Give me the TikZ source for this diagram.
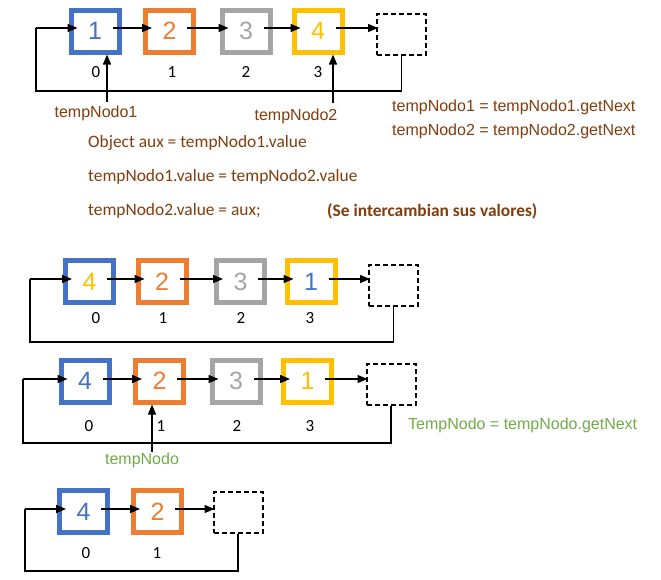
\documentclass[tikz,border=0pt]{standalone}
\usepackage{fontspec}
\setmainfont{Liberation Sans}
\newfontfamily\calfont{Carlito}
\usetikzlibrary{arrows.meta}
\definecolor{cblue}{HTML}{4472C4}
\definecolor{corange}{HTML}{ED7D31}
\definecolor{cgray}{HTML}{A5A5A5}
\definecolor{cyellow}{HTML}{FFC000}
\definecolor{cbrown}{HTML}{843C0C}
\definecolor{cgreen}{HTML}{70AD47}
\begin{document}
\begin{tikzpicture}[x=1pt,y=-1pt,
  box/.style={draw, line width=5pt, minimum width=48pt, minimum height=42pt, inner sep=0pt, font=\fontsize{25}{25}\selectfont},
  nullbox/.style={draw, line width=2pt, dash pattern=on 5pt off 3pt, minimum width=49pt, minimum height=41pt, inner sep=0pt},
  arr/.style={-{Triangle[length=10pt,width=8pt]}, line width=1.3pt},
  ln/.style={line width=1.3pt},
  idx/.style={inner sep=0pt, font=\calfont\fontsize{17}{17}\selectfont},
  lbl/.style={inner sep=0pt, font=\fontsize{16}{16}\selectfont},
  code/.style={inner sep=0pt, anchor=west, text=cbrown, font=\calfont\fontsize{17.4}{17.4}\selectfont},
  codea/.style={inner sep=0pt, anchor=west, text=cbrown, font=\fontsize{16}{16}\selectfont}
]
\useasboundingbox[fill=white] (0,0) rectangle (661,579);

% ---------- Row 1 ----------
\node[box, draw=cblue, text=cblue] (a1) at (95,31) {1};
\node[box, draw=corange, text=corange] (a2) at (169.5,31) {2};
\node[box, draw=cgray, text=cgray] (a3) at (246,31) {3};
\node[box, draw=cyellow, text=cyellow] (a4) at (318,31) {4};
\node[nullbox] (ad) at (401.5,34.5) {};
\coordinate (ae) at (36,28);
\coordinate (al) at (36,91);
\draw[ln] (ad.south) |- (al) -- (ae);
\draw[arr] (ae) -- ([xshift=9pt]ae -| a1.west);
\draw[arr] ([xshift=-9pt]ae -| a1.east) -- ([xshift=9pt]ae -| a2.west);
\draw[arr] ([xshift=-9pt]ae -| a2.east) -- ([xshift=9pt]ae -| a3.west);
\draw[arr] ([xshift=-9pt]ae -| a3.east) -- ([xshift=9pt]ae -| a4.west);
\draw[arr] ([xshift=-9pt]ae -| a4.east) -- ([xshift=2pt]ae -| ad.west);
\node[idx] (ai0) at (96,72) {0};
\node[idx] (ai1) at (172,72) {1};
\node[idx] (ai2) at (246,72) {2};
\node[idx] (ai3) at (318,72) {3};
\node[lbl, text=cbrown] (t1) at (96,113) {tempNodo1};
\node[lbl, text=cbrown] (t2) at (296,116) {tempNodo2};
\coordinate (p1) at (107,102);
\coordinate (p2) at (333,103);
\draw[arr] (p1) -- (p1 |- a1.south);
\draw[arr] (p2) -- (p2 |- a4.south);

% ---------- Code text ----------
\node[codea] (c1) at (392,107) {tempNodo1 = tempNodo1.getNext};
\node[codea] (c2) at (392,131) {tempNodo2 = tempNodo2.getNext};
\node[code] (c3) at (88,143) {Object aux = tempNodo1.value};
\node[code] (c4) at (88,177) {tempNodo1.value = tempNodo2.value};
\node[code] (c5) at (88,211) {tempNodo2.value = aux;};
\node[code, font=\calfont\bfseries\fontsize{17.4}{17.4}\selectfont] (c6) at (327,211) {(Se intercambian sus valores)};

% ---------- Row 2 ----------
\node[box, draw=cblue, text=cyellow] (b1) at (89.5,281.5) {4};
\node[box, draw=corange, text=corange] (b2) at (162,281.5) {2};
\node[box, draw=cgray, text=cgray] (b3) at (240.5,281.5) {3};
\node[box, draw=cyellow, text=cblue] (b4) at (311,281.5) {1};
\node[nullbox] (bd) at (393.5,285.5) {};
\coordinate (be) at (30,279);
\coordinate (bl) at (30,342);
\draw[ln] (bd.south) |- (bl) -- (be);
\draw[arr] (be) -- ([xshift=9pt]be -| b1.west);
\draw[arr] ([xshift=-9pt]be -| b1.east) -- ([xshift=9pt]be -| b2.west);
\draw[arr] ([xshift=-9pt]be -| b2.east) -- ([xshift=9pt]be -| b3.west);
\draw[arr] ([xshift=-9pt]be -| b3.east) -- ([xshift=9pt]be -| b4.west);
\draw[arr] ([xshift=-9pt]be -| b4.east) -- ([xshift=2pt]be -| bd.west);
\node[idx] (bi0) at (96,318) {0};
\node[idx] (bi1) at (163,318) {1};
\node[idx] (bi2) at (241,318) {2};
\node[idx] (bi3) at (310,318) {3};

% ---------- Row 3 ----------
\node[box, draw=cblue, text=cblue] (r1) at (85,381) {4};
\node[box, draw=corange, text=corange] (r2) at (159.5,381) {2};
\node[box, draw=cgray, text=cgray] (r3) at (236,381) {3};
\node[box, draw=cyellow, text=cyellow] (r4) at (307.5,381) {1};
\node[nullbox] (rd) at (391,384) {};
\coordinate (re) at (23,379);
\coordinate (rl) at (23,443);
\draw[ln] (rd.south) |- (rl) -- (re);
\draw[arr] (re) -- ([xshift=9pt]re -| r1.west);
\draw[arr] ([xshift=-9pt]re -| r1.east) -- ([xshift=9pt]re -| r2.west);
\draw[arr] ([xshift=-9pt]re -| r2.east) -- ([xshift=9pt]re -| r3.west);
\draw[arr] ([xshift=-9pt]re -| r3.east) -- ([xshift=9pt]re -| r4.west);
\draw[arr] ([xshift=-9pt]re -| r4.east) -- ([xshift=2pt]re -| rd.west);
\node[idx] (ri0) at (89,426) {0};
\node[idx] (ri1) at (161,426) {1};
\node[idx] (ri2) at (237,426) {2};
\node[idx] (ri3) at (310,426) {3};
\node[lbl, text=cgreen] (t3) at (142,460) {tempNodo};
\coordinate (p3) at (152,452);
\draw[arr] (p3) -- (p3 |- r2.south);
\node[codea, text=cgreen] (c7) at (408,425) {TempNodo = tempNodo.getNext};

% ---------- Row 4 ----------
\node[box, draw=cblue, text=cblue] (s1) at (83.5,511.5) {4};
\node[box, draw=corange, text=corange] (s2) at (157.5,511.5) {2};
\node[nullbox] (sd) at (238,512.5) {};
\coordinate (se) at (25,509);
\coordinate (sl) at (25,571);
\draw[ln] (sd.south) |- (sl) -- (se);
\draw[arr] (se) -- ([xshift=9pt]se -| s1.west);
\draw[arr] ([xshift=-9pt]se -| s1.east) -- ([xshift=9pt]se -| s2.west);
\draw[arr] ([xshift=-9pt]se -| s2.east) -- ([xshift=2pt]se -| sd.west);
\node[idx] (si0) at (86,553) {0};
\node[idx] (si1) at (157,553) {1};
\end{tikzpicture}
\end{document}
